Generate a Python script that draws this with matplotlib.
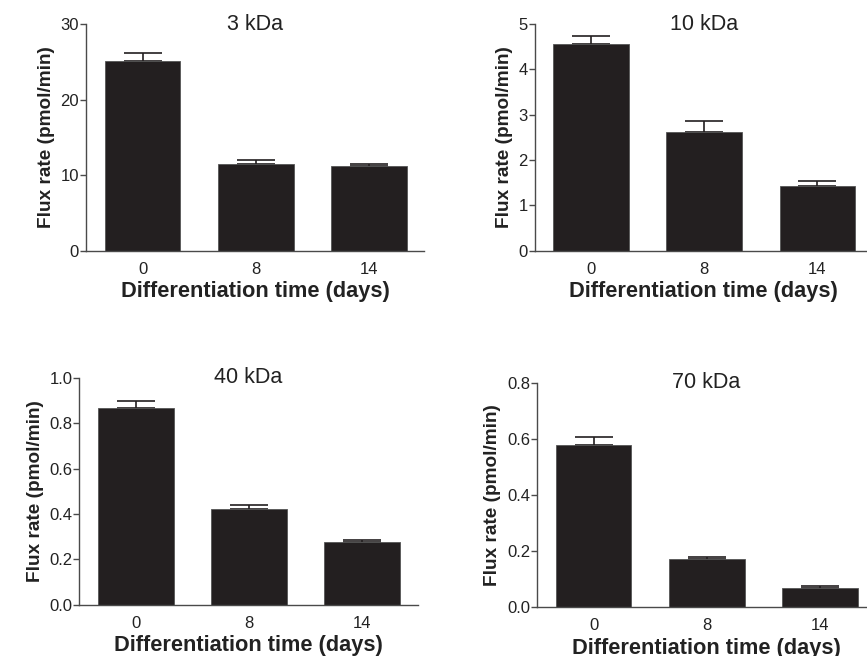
import numpy as np
import matplotlib.pyplot as plt

plt.rcParams['font.family'] = ['Liberation Sans', 'DejaVu Sans']

days = ["0", "8", "14"]
titles = ["3 kDa", "10 kDa", "40 kDa", "70 kDa"]

flux_3 = [25.15, 11.5, 11.2]
err_3 = [1.05, 0.5, 0.3]
flux_10 = [4.56, 2.61, 1.43]
err_10 = [0.18, 0.24, 0.11]
flux_40 = [0.868, 0.420, 0.275]
err_40 = [0.031, 0.018, 0.011]
flux_70 = [0.579, 0.172, 0.070]
err_70 = [0.029, 0.008, 0.005]

ylims = [(0, 30), (0, 5), (0, 1.0), (0, 0.8)]
yticks = [[0, 10, 20, 30], [0, 1, 2, 3, 4, 5],
          [0.0, 0.2, 0.4, 0.6, 0.8, 1.0], [0.0, 0.2, 0.4, 0.6, 0.8]]
ytick_fmt = ["{:.0f}", "{:.0f}", "{:.1f}", "{:.1f}"]

# axes rectangles in figure fraction (left, bottom, width, height)
rects = [[0.0992, 0.6174, 0.390, 0.346],
         [0.6167, 0.6178, 0.390, 0.3456],
         [0.0915, 0.0782, 0.3903, 0.346],
         [0.6194, 0.0742, 0.390, 0.3424]]

data = [(flux_3, err_3), (flux_10, err_10), (flux_40, err_40), (flux_70, err_70)]

fig = plt.figure(figsize=(8.67, 6.56), dpi=100)
spine_col = "#4a4a4a"
bar_col = "#231f20"

for i in range(4):
    ax = fig.add_axes(rects[i])
    vals, errs = data[i]
    x = np.arange(len(days))
    ax.bar(x, vals, width=0.67, color=bar_col, edgecolor="#555555", linewidth=0.6, zorder=2)
    ax.errorbar(x, vals, yerr=[np.zeros(len(errs)), errs], fmt="none",
                ecolor="#231f20", elinewidth=1.2, capsize=13.5, capthick=1.2, zorder=1)
    ax.set_xlim(-0.5, 2.49)
    ax.set_ylim(*ylims[i])
    ax.set_yticks(yticks[i])
    ax.set_yticklabels([ytick_fmt[i].format(t) for t in yticks[i]])
    ax.set_xticks(x)
    ax.set_xticklabels(days)
    ax.tick_params(axis="x", length=0, labelsize=12, pad=8, colors="#222222")
    ax.tick_params(axis="y", length=4, width=1, labelsize=12, pad=1,
                   color=spine_col, labelcolor="#222222")
    for s in ["top", "right"]:
        ax.spines[s].set_visible(False)
    for s in ["left", "bottom"]:
        ax.spines[s].set_color(spine_col)
        ax.spines[s].set_linewidth(1)
    ax.set_title(titles[i], fontsize=15.5, y=1.0, va="center", pad=0, color="#222222")
    ax.set_xlabel("Differentiation time (days)", fontsize=15.7, fontweight="bold",
                  labelpad=3, color="#222222")
    ax.set_ylabel("Flux rate (pmol/min)", fontsize=13.7, fontweight="bold",
                  labelpad=4, color="#222222")

fig.savefig("out.png", dpi=100)
